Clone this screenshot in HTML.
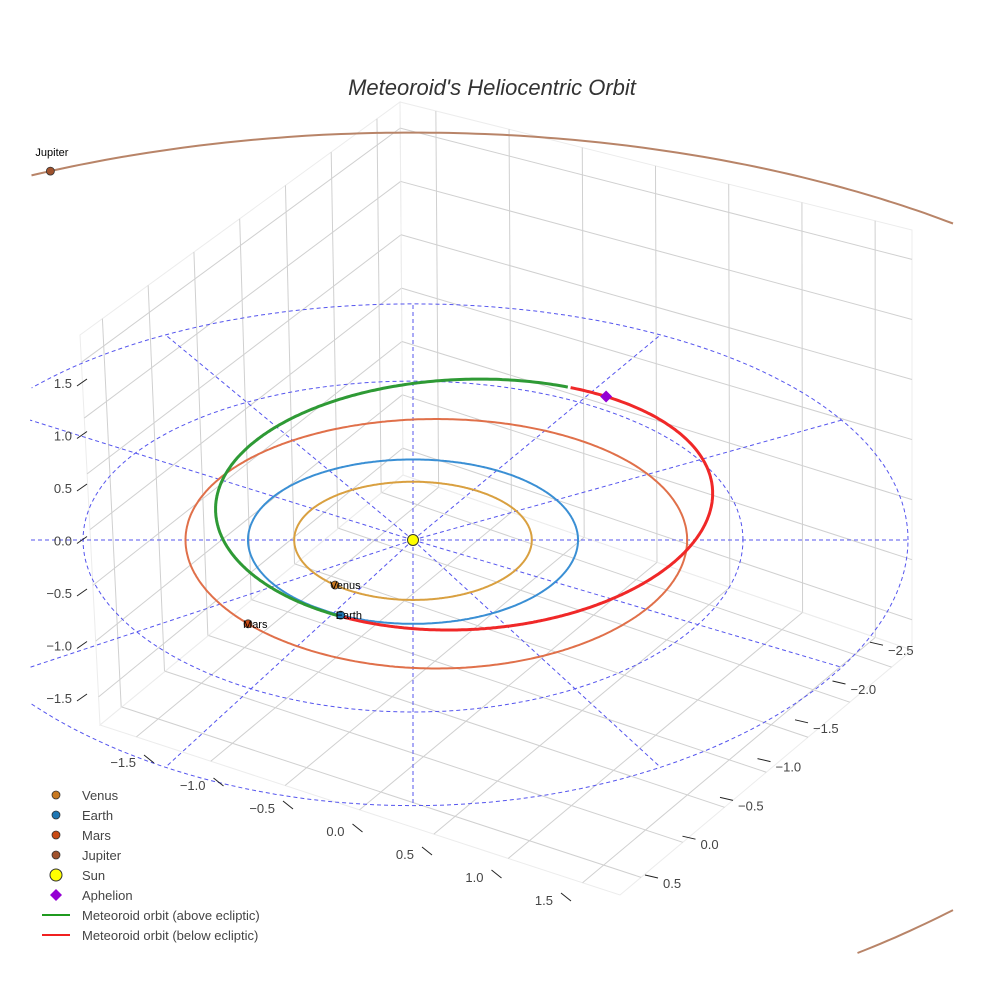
<!DOCTYPE html>
<html><head><meta charset="utf-8"><style>
body{margin:0;background:#fff;overflow:hidden}
svg{display:block;font-family:"Liberation Sans",sans-serif}
</style></head><body>
<svg id="c" width="984" height="984" viewBox="0 0 984 984">
<defs><clipPath id="clipScene"><rect x="30" y="0" width="924" height="955"/></clipPath></defs>
<rect width="984" height="984" fill="#fff"/>
<text x="492" y="95" text-anchor="middle" font-size="22" font-style="italic" fill="#333">Meteoroid's Heliocentric Orbit</text>
<g id="grid"></g><g id="rings" clip-path="url(#clipScene)"></g><g id="orbits" clip-path="url(#clipScene)"></g><g id="marks"></g><g id="axes"></g><g id="legend"></g>
</svg>
<script>
const planetNames=["Venus","Earth","Mars","Jupiter"];
const planetRadius=[0.72,1.0,1.52,5.2];
const planetEcc=[0.0,0.0,0.093,0.0];
const planetPeriDeg=[0,0,180,0];
const planetAngleDeg=[229,244,225,115];
const planetColors=["#c87820","#1f77b4","#c84a14","#a0522d"];
const orbitColors=["#d9a040","#3a8fd4","#e0704a","#b88468"];
const meteorA=[1.58];const meteorE=[0.36];const meteorPeriDeg=[237];const nodeDeg=[64];
const ringRadii=[2,3];
const spokeDeg=[0,30,60,90,120,150,180,210,240,270,300,330];
const zTicks=["1.5","1.0","0.5","0.0","\u22120.5","\u22121.0","\u22121.5"];
const xTicks=["\u22121.5","\u22121.0","\u22120.5","0.0","0.5","1.0","1.5"];
const yTicks=["0.5","0.0","\u22120.5","\u22121.0","\u22121.5","\u22122.0","\u22122.5"];
const NS="http://www.w3.org/2000/svg";
const CX=413,CY=540,KX=165,KY=82;
function P(u,v){return [CX+KX*u, CY-KY*v*(1-0.02*v+0.0022*v*v)];}
function mk(tag,parent,at){const e=document.createElementNS(NS,tag);for(const k in at)e.setAttribute(k,at[k]);parent.appendChild(e);return e;}
function lerp(a,b,t){return [a[0]+(b[0]-a[0])*t,a[1]+(b[1]-a[1])*t];}
const g=document.getElementById('grid');
function wall(TL,TR,BR,BL,name){
  mk('polygon',g,{points:[TL,TR,BR,BL].map(p=>p.join(',')).join(' '),fill:'none',stroke:'#ececec','stroke-width':1});
  for(let i=0;i<7;i++){const t=0.07+i*0.143;
    const a=lerp(TL,TR,t),b=lerp(BL,BR,t);
    const l=mk('line',g,{x1:a[0],y1:a[1],x2:b[0],y2:b[1],stroke:'#d0d0d0','stroke-width':1});
    
    const c=lerp(TL,BL,t),d=lerp(TR,BR,t);
    const l2=mk('line',g,{x1:c[0],y1:c[1],x2:d[0],y2:d[1],stroke:'#d0d0d0','stroke-width':1});
    
  }
}
wall([80,335],[400,102],[403,475],[100,725],'left-wall');
wall([400,102],[912,230],[912,650],[403,475],'right-wall');
wall([403,475],[912,650],[620,895],[100,725],'floor');
function inside(p){return p[0]>=30&&p[0]<=954&&p[1]>=0&&p[1]<=955;}
function splitPath(arr){let d='',prev=null;arr.forEach(p=>{if(!inside(p)){prev=null;return;}
  if(!prev||Math.hypot(p[0]-prev[0],p[1]-prev[1])>20)d+='M';else d+='L';d+=p[0].toFixed(1)+','+p[1].toFixed(1);prev=p;});return d;}
const rg=document.getElementById('rings');
ringRadii.forEach(r=>{const pts=[];for(let k=0;k<=200;k++){const a=k/200*2*Math.PI;pts.push(P(r*Math.cos(a),r*Math.sin(a)));}
  const e=mk('path',rg,{d:splitPath(pts),fill:'none',stroke:'#5555ee','stroke-width':1,'stroke-dasharray':'4,3'});
  });
spokeDeg.forEach(d=>{const a=d*Math.PI/180;const p=P(3*Math.cos(a),3*Math.sin(a));const s=P(0,0);
  const e=mk('line',rg,{x1:s[0],y1:s[1],x2:Math.max(30,p[0]),y2:p[1],stroke:'#5555ee','stroke-width':1,'stroke-dasharray':'4,3'});
  });
const og=document.getElementById('orbits');
function orbitPt(a,e,peri,th){const nu=th-peri;const r=a*(1-e*e)/(1+e*Math.cos(nu));return P(r*Math.cos(th),r*Math.sin(th));}
planetRadius.forEach((r,i)=>{const pts=[];const pr=planetPeriDeg[i]*Math.PI/180;
  for(let k=0;k<=600;k++){const a=k/600*2*Math.PI;pts.push(orbitPt(r,planetEcc[i],pr,a));}
  const e=mk('path',og,{d:splitPath(pts),fill:'none',stroke:orbitColors[i],'stroke-width':2});
  });
const a=meteorA[0],ec=meteorE[0],w=meteorPeriDeg[0]*Math.PI/180,n0=nodeDeg[0];
const green=[],red=[];
for(let k=0;k<=720;k++){const th=k/720*2*Math.PI;const p=orbitPt(a,ec,w,th);const deg=th*180/Math.PI;
  if(deg>=n0&&deg<=n0+180)green.push(p);else red.push(p);}
let e1=mk('path',og,{d:splitPath(green),fill:'none',stroke:'#2e9a35','stroke-width':3});

let e2=mk('path',og,{d:splitPath(red),fill:'none',stroke:'#f02828','stroke-width':3});

const mg=document.getElementById('marks');
planetRadius.forEach((r,i)=>{const t=planetAngleDeg[i]*Math.PI/180;const p=orbitPt(r,planetEcc[i],planetPeriDeg[i]*Math.PI/180,t);
  const c=mk('circle',mg,{cx:p[0],cy:p[1],r:4,fill:planetColors[i],stroke:'#333','stroke-width':0.8});
  
  const tx=mk('text',mg,{x:p[0]+(i==3?-15:-5),y:p[1]+(i==3?-15:4),'font-size':11,fill:'#000'});tx.textContent=planetNames[i];
  });
const sp=P(0,0);
const sun=mk('circle',mg,{cx:sp[0],cy:sp[1],r:5.5,fill:'#ffff00',stroke:'#333','stroke-width':1});

const ap=orbitPt(a,ec,w,w+Math.PI);
const dm=mk('polygon',mg,{points:`${ap[0]},${ap[1]-6} ${ap[0]+6},${ap[1]} ${ap[0]},${ap[1]+6} ${ap[0]-6},${ap[1]}`,fill:'#9400d3'});

const ag=document.getElementById('axes');
function tlabel(txt,x,y,anchor,name){const t=mk('text',ag,{x:x,y:y,'font-size':13,fill:'#444','text-anchor':anchor});t.textContent=txt;
  }
zTicks.forEach((s,i)=>{const y=383+i*52.5;tlabel(s,72,y+5,'end','z-tick-label');mk('line',ag,{x1:77,y1:y+3,x2:87,y2:y-4,stroke:'#222'});});
xTicks.forEach((s,i)=>{const x=136+i*69.5,y=767+i*23;tlabel(s,x,y,'end','x-tick-label');mk('line',ag,{x1:x+8,y1:y-12,x2:x+18,y2:y-4,stroke:'#222'});});
yTicks.forEach((s,i)=>{const x=663+i*37.5,y=888-i*38.8;tlabel(s,x,y,'start','y-tick-label');mk('line',ag,{x1:x-18,y1:y-13,x2:x-5,y2:y-10,stroke:'#222'});});
const lg=document.getElementById('legend');
const legNames=["Venus","Earth","Mars","Jupiter","Sun","Aphelion","Meteoroid orbit (above ecliptic)","Meteoroid orbit (below ecliptic)"];
legNames.forEach((s,i)=>{const y=795+i*20;
  if(i<4)mk('circle',lg,{cx:56,cy:y,r:4,fill:planetColors[i],stroke:'#333','stroke-width':0.8});
  else if(i==4)mk('circle',lg,{cx:56,cy:y,r:6,fill:'#ffff00',stroke:'#333','stroke-width':1});
  else if(i==5)mk('polygon',lg,{points:`56,${y-6} 62,${y} 56,${y+6} 50,${y}`,fill:'#9400d3'});
  else mk('line',lg,{x1:42,y1:y,x2:70,y2:y,stroke:i==6?'#1f9a1f':'#f02020','stroke-width':2});
  const t=mk('text',lg,{x:82,y:y+5,'font-size':13,fill:'#444'});t.textContent=s;
  });
</script>
</body></html>
